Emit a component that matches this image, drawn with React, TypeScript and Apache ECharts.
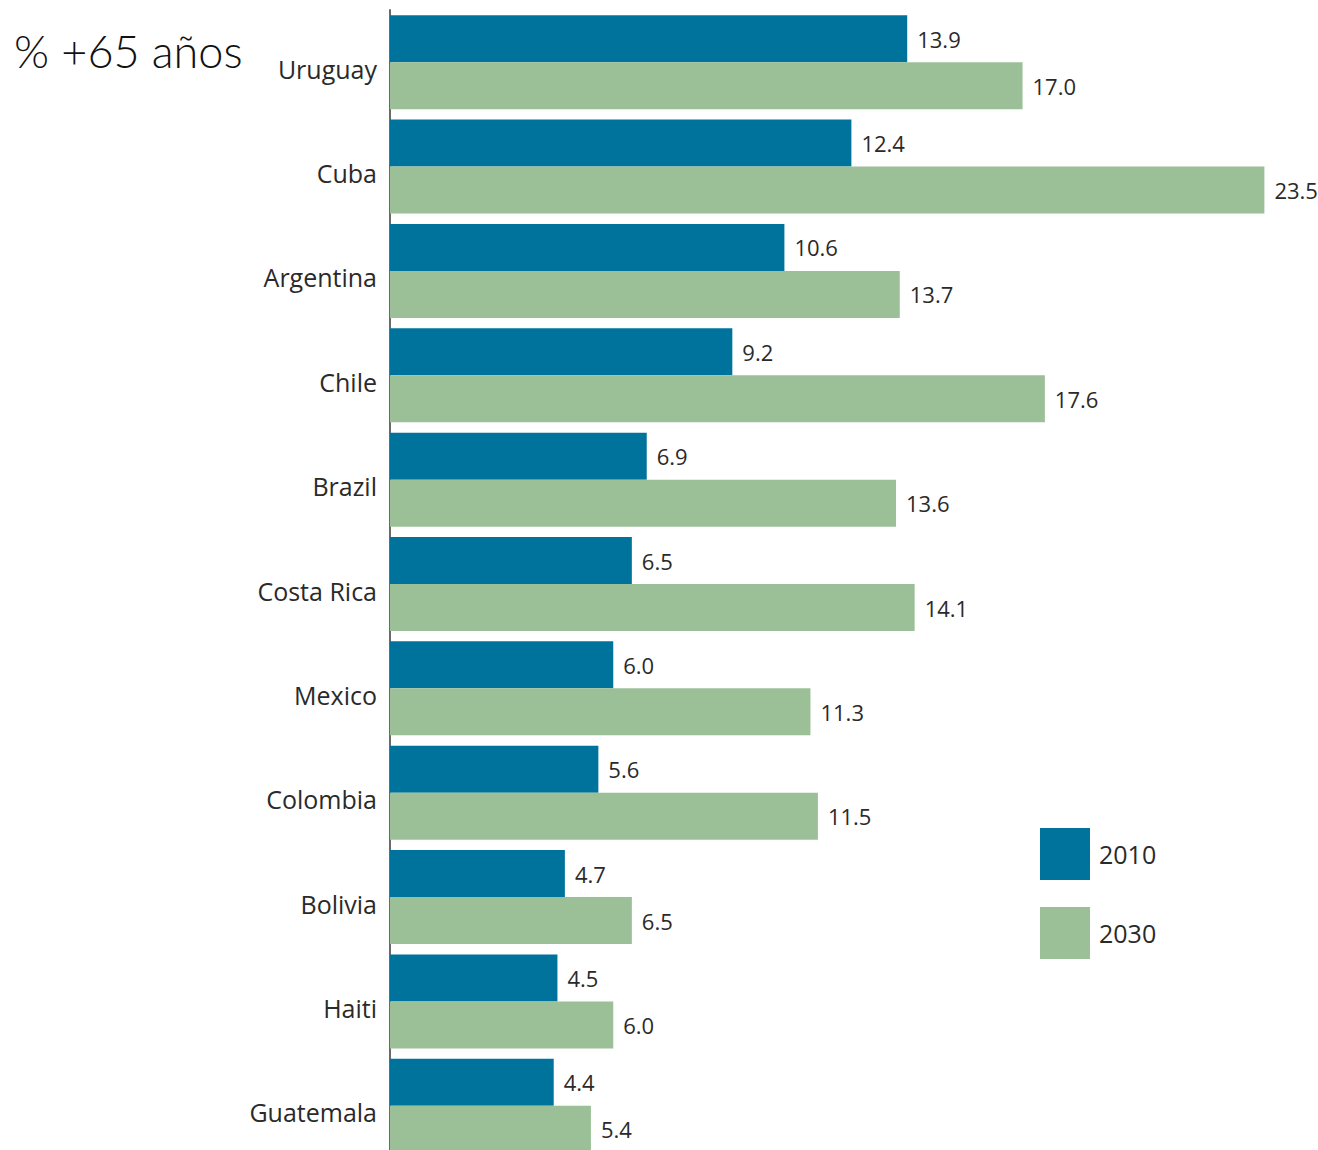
import React, { useEffect, useRef } from "react";
import * as echarts from "echarts";

const countries = [
  "Uruguay",
  "Cuba",
  "Argentina",
  "Chile",
  "Brazil",
  "Costa Rica",
  "Mexico",
  "Colombia",
  "Bolivia",
  "Haiti",
  "Guatemala",
];
const values2010 = [13.9, 12.4, 10.6, 9.2, 6.9, 6.5, 6.0, 5.6, 4.7, 4.5, 4.4];
const values2030 = [17.0, 23.5, 13.7, 17.6, 13.6, 14.1, 11.3, 11.5, 6.5, 6.0, 5.4];
const seriesNames = ["2010", "2030"];
const titleText = "% +65 años";

const COLOR_2010 = "#00739c";
const COLOR_2030 = "#9bbf97";

export default function App() {
  const ref = useRef<HTMLDivElement>(null);

  useEffect(() => {
    if (!ref.current) return;
    const chart = echarts.init(ref.current, null, { renderer: "svg" });
    const labelStyle = {
      show: true,
      position: "right" as const,
      distance: 10,
      fontSize: 22,
      color: "#2a2a2a",
      fontFamily: "Open Sans",
      formatter: (p: any) => Number(p.value).toFixed(1),
    };
    chart.setOption({
      animation: false,
      backgroundColor: "#ffffff",
      title: {
        text: titleText,
        left: 14,
        top: 28,
        padding: 0,
        textStyle: {
          fontSize: 45,
          fontWeight: 300,
          color: "#111",
          fontFamily: "Lato",
        },
      },
      legend: {
        orient: "vertical",
        left: 1040,
        top: 828,
        padding: 0,
        itemWidth: 50,
        itemHeight: 52,
        itemGap: 27,
        icon: "rect",
        data: seriesNames,
        textStyle: {
          fontSize: 25,
          color: "#2a2a2a",
          fontFamily: "Open Sans",
          padding: [0, 0, 4, 4],
        },
      },
      grid: {
        left: 390,
        top: 10,
        width: 893,
        height: 1148,
        containLabel: false,
        outerBoundsMode: "none",
      },
      xAxis: {
        type: "value",
        min: 0,
        max: 24,
        show: false,
      },
      yAxis: {
        type: "category",
        inverse: true,
        data: countries,
        axisLine: { show: true, lineStyle: { color: "#6a6a6a", width: 2 } },
        axisTick: { show: false },
        axisLabel: {
          margin: 13,
          fontSize: 25,
          color: "#2a2a2a",
          fontFamily: "Open Sans",
          verticalAlign: "top",
          lineHeight: 13,
        },
      },
      series: [
        {
          name: seriesNames[0],
          type: "bar",
          data: values2010,
          barWidth: 47,
          barGap: "0%",
          itemStyle: { color: COLOR_2010 },
          label: labelStyle,
        },
        {
          name: seriesNames[1],
          type: "bar",
          data: values2030,
          barWidth: 47,
          barGap: "0%",
          itemStyle: { color: COLOR_2030 },
          label: labelStyle,
        },
      ],
    });
    return () => chart.dispose();
  }, []);

  return (
    <div
      ref={ref}
      style={{ position: "absolute", left: 0, top: 0, width: 1318, height: 1150 }}
    />
  );
}
